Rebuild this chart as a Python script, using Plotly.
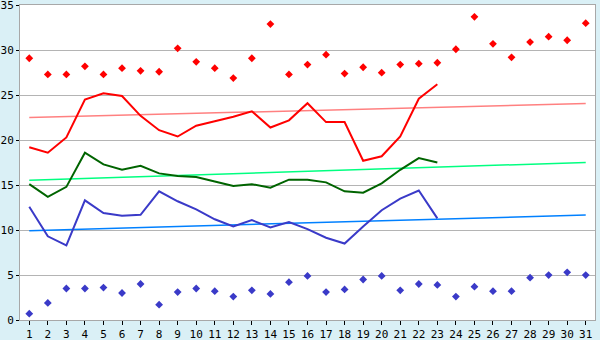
import plotly.graph_objects as go

days = list(range(1, 32))
line_days = list(range(1, 24))
y_ticks = [0, 5, 10, 15, 20, 25, 30, 35]

max_pts = [29.1, 27.3, 27.3, 28.2, 27.3, 28.0, 27.7, 27.6, 30.2, 28.7,
           28.0, 26.9, 29.1, 32.9, 27.3, 28.4, 29.5, 27.4, 28.1, 27.5,
           28.4, 28.5, 28.6, 30.1, 33.7, 30.7, 29.2, 30.9, 31.5, 31.1, 33.0]
min_pts = [0.7, 1.9, 3.5, 3.5, 3.6, 3.0, 4.0, 1.7, 3.1, 3.5,
           3.2, 2.6, 3.3, 2.9, 4.2, 4.9, 3.1, 3.4, 4.5, 4.9,
           3.3, 4.0, 3.9, 2.6, 3.7, 3.2, 3.2, 4.7, 5.0, 5.3, 5.0]
max_line = [19.2, 18.6, 20.3, 24.5, 25.2, 24.9, 22.7, 21.1, 20.4, 21.6,
            22.1, 22.6, 23.2, 21.4, 22.2, 24.1, 22.0, 22.0, 17.7, 18.2,
            20.4, 24.6, 26.2]
mean_line = [15.1, 13.7, 14.8, 18.6, 17.3, 16.7, 17.15, 16.3, 16.0, 15.9,
             15.4, 14.9, 15.1, 14.7, 15.6, 15.6, 15.3, 14.3, 14.15, 15.2,
             16.7, 18.0, 17.5]
min_line = [12.6, 9.3, 8.3, 13.3, 11.9, 11.6, 11.7, 14.3, 13.2, 12.3,
            11.2, 10.4, 11.1, 10.3, 10.9, 10.1, 9.15, 8.5, 10.4, 12.2,
            13.5, 14.4, 11.3]
trend_days = [1, 31]
max_trend = [22.5, 24.07]
mean_trend = [15.53, 17.52]
min_trend = [9.93, 11.67]

fig = go.Figure()
# trend lines
fig.add_trace(go.Scatter(x=trend_days, y=max_trend, mode="lines",
                         line=dict(color="#FF8080", width=1.5), hoverinfo="skip"))
fig.add_trace(go.Scatter(x=trend_days, y=mean_trend, mode="lines",
                         line=dict(color="#00FF80", width=1.5), hoverinfo="skip"))
fig.add_trace(go.Scatter(x=trend_days, y=min_trend, mode="lines",
                         line=dict(color="#0080FF", width=1.5), hoverinfo="skip"))
# daily lines
fig.add_trace(go.Scatter(x=line_days, y=max_line, mode="lines",
                         line=dict(color="#FF0000", width=2)))
fig.add_trace(go.Scatter(x=line_days, y=mean_line, mode="lines",
                         line=dict(color="#006400", width=2)))
fig.add_trace(go.Scatter(x=line_days, y=min_line, mode="lines",
                         line=dict(color="#3A3AC8", width=2)))
# points
fig.add_trace(go.Scatter(x=days, y=max_pts, mode="markers",
                         marker=dict(symbol="diamond", size=6, color="#FF0000")))
fig.add_trace(go.Scatter(x=days, y=min_pts, mode="markers",
                         marker=dict(symbol="diamond", size=6, color="#3A3AC8")))

axis_font = dict(family="DejaVu Sans Mono", size=11, color="#000000")
fig.update_layout(
    width=600, height=340,
    margin=dict(l=20, r=5, t=5, b=20),
    paper_bgcolor="#DAF0F6",
    plot_bgcolor="#FFFFFF",
    showlegend=False,
    xaxis=dict(range=[0.5, 31.5], tickmode="array", tickvals=days,
               ticktext=[str(d) for d in days], automargin=False,
               showgrid=False, zeroline=False,
               showline=True, linecolor="#A8A8A8", linewidth=1, mirror=True,
               ticks="outside", ticklen=4, tickcolor="#000000",
               tickfont=axis_font),
    yaxis=dict(range=[0, 35.02], tickmode="array", tickvals=y_ticks,
               ticktext=[str(v) for v in y_ticks], automargin=False,
               ticklabeloverflow="allow",
               showgrid=True, gridcolor="#B4B4B4", gridwidth=1,
               zeroline=False,
               showline=True, linecolor="#A8A8A8", linewidth=1, mirror=True,
               ticks="outside", ticklen=3, tickcolor="#000000",
               tickfont=axis_font),
)

fig.write_html("out.html", config={"displayModeBar": False},
               post_script="document.body.style.margin='0';document.body.style.overflow='hidden';")
